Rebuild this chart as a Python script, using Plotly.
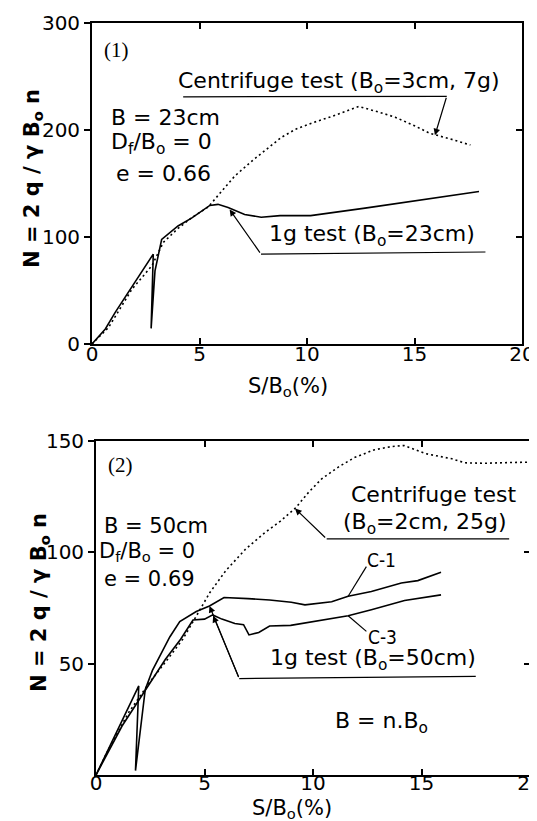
import plotly.graph_objects as go

# ---------------- Panel (1) data ----------------
p1_cent_x = [0, 0.77, 1.85, 2.78, 3.32, 4.0, 4.63, 5.4, 6.0, 6.64, 7.5, 8.1, 8.8, 9.5, 10.3, 11.2, 12.4, 13.3, 14.1, 15.0, 15.7, 16.6, 17.6]
p1_cent_y = [0, 15.5, 51, 73, 95, 108, 118, 128, 142, 157, 172, 182, 193, 201, 207, 213, 222, 217, 212, 204, 197, 192, 186]
p1_1g_x = [0, 0.62, 1.08, 2.85, 2.75, 2.93, 3.24, 4.0, 4.63, 5.48, 5.86, 6.33, 7.1, 7.87, 8.75, 10.17, 12.7, 18.0]
p1_1g_y = [0, 14, 29.5, 84, 14.6, 68.3, 97.8, 110.3, 117.6, 129.5, 130.5, 127.5, 121.1, 118.5, 120, 120, 127, 142.6]

# ---------------- Panel (2) data ----------------
p2_cent_x = [0, 0.6, 1.5, 2.5, 3.3, 4.0, 4.6, 5.25, 6.0, 6.9, 7.8, 8.5, 9.2, 9.8, 10.4, 11.2, 11.9, 12.8, 13.6, 14.2, 15.2, 16.4, 17.0, 17.9, 19.0, 20.0]
p2_cent_y = [0, 12, 28, 42, 52, 61, 71, 82, 92, 101.5, 109, 114, 120, 127, 133, 138.5, 142.5, 146, 147.5, 148, 144.3, 142, 140.2, 140, 140.3, 140.5]
p2_c1_x = [0, 0.6, 1.2, 1.97, 1.82, 2.27, 2.6, 3.0, 3.4, 3.86, 4.62, 5.23, 5.9, 7.0, 8.0, 9.0, 9.63, 10.86, 11.62, 12.69, 14.07, 14.83, 15.9]
p2_c1_y = [0, 12, 24, 40, 2, 38.4, 47, 54.7, 62, 68.9, 73.4, 75.9, 79.7, 79.2, 78.6, 77.6, 76.4, 77.8, 80.3, 82.4, 86.2, 87.3, 91.1]
p2_c3_x = [0, 0.6, 1.2, 1.8, 2.4, 3.2, 3.9, 4.47, 5.0, 5.38, 5.8, 6.4, 6.8, 7.05, 7.5, 8.0, 8.97, 9.63, 11.62, 12.69, 14.22, 15.9]
p2_c3_y = [0, 11, 22, 31, 40, 52, 61, 69.6, 70, 71.9, 70, 68, 67.5, 62.9, 64, 66.9, 67.2, 68.2, 71.5, 74.2, 78.4, 80.9]

# tick labels
p1_xticks = [0, 5, 10, 15, 20]
p1_yticks = [0, 100, 200, 300]
p2_xticks = [0, 5, 10, 15, 20]
p2_yticks = [50, 100, 150]

W, H = 537, 821
def px_x(a, b):
    return [a / W, b / W]
def px_y(top, bottom):
    return [1 - bottom / H, 1 - top / H]

TICKFONT = dict(family="DejaVu Sans", size=20, color="black")
TXT = dict(family="DejaVu Sans", size=22, color="black")
TXT2 = dict(family="DejaVu Sans", size=21, color="black")
LW = 1.6

fig = go.Figure()

# Panel 1 traces
fig.add_trace(go.Scatter(x=p1_cent_x, y=p1_cent_y, mode="lines",
                         line=dict(color="black", width=1.6, dash="2px,3px"),
                         xaxis="x", yaxis="y", showlegend=False, hoverinfo="skip"))
fig.add_trace(go.Scatter(x=p1_1g_x, y=p1_1g_y, mode="lines",
                         line=dict(color="black", width=LW),
                         xaxis="x", yaxis="y", showlegend=False, hoverinfo="skip"))
# Panel 2 traces
fig.add_trace(go.Scatter(x=p2_cent_x, y=p2_cent_y, mode="lines",
                         line=dict(color="black", width=1.6, dash="2px,3px"),
                         xaxis="x2", yaxis="y2", showlegend=False, hoverinfo="skip"))
fig.add_trace(go.Scatter(x=p2_c1_x, y=p2_c1_y, mode="lines",
                         line=dict(color="black", width=LW),
                         xaxis="x2", yaxis="y2", showlegend=False, hoverinfo="skip"))
fig.add_trace(go.Scatter(x=p2_c3_x, y=p2_c3_y, mode="lines",
                         line=dict(color="black", width=LW),
                         xaxis="x2", yaxis="y2", showlegend=False, hoverinfo="skip"))
# dummy traces so that the mirror (inside tick) axes are drawn
for xa, ya in (("x3", "y3"), ("x4", "y4")):
    fig.add_trace(go.Scatter(x=[None], y=[None], xaxis=xa, yaxis=ya,
                             showlegend=False, hoverinfo="skip"))

frame = dict(showline=True, linecolor="black", linewidth=1.8, mirror=True,
             showgrid=False, zeroline=False, tickfont=TICKFONT, automargin=False,
             tickcolor="black", tickwidth=1.5, ticklen=6)
mirror_ax = dict(ticks="inside", ticklen=6, tickwidth=1.5, tickcolor="black",
                 showticklabels=False, showgrid=False, zeroline=False,
                 showline=False, automargin=False)

fig.update_layout(
    template="none",
    width=W, height=H, autosize=False,
    margin=dict(l=0, r=0, t=0, b=0, pad=0),
    paper_bgcolor="white", plot_bgcolor="white",
    xaxis=dict(frame, domain=px_x(84, 514), anchor="y", range=[0, 20],
               tickvals=p1_xticks, ticks="inside", ticklabelstandoff=-9),
    yaxis=dict(frame, domain=px_y(15, 336), anchor="x", range=[0, 300],
               tickvals=p1_yticks, ticks="outside"),
    xaxis2=dict(frame, domain=px_x(88, 522), anchor="y2", range=[0, 20],
                tickvals=p2_xticks, ticks="inside", ticklabelstandoff=-11),
    yaxis2=dict(frame, domain=px_y(433, 767), anchor="x2", range=[0, 150],
                tickvals=p2_yticks, ticks="outside"),
    xaxis3=dict(mirror_ax, overlaying="x", anchor="y3", side="top", range=[0, 20],
                tickvals=p1_xticks[1:-1]),
    yaxis3=dict(mirror_ax, overlaying="y", anchor="x3", side="right", range=[0, 300],
                tickvals=p1_yticks[1:-1]),
    xaxis4=dict(mirror_ax, overlaying="x2", anchor="y4", side="top", range=[0, 20],
                tickvals=p2_xticks[1:-1]),
    yaxis4=dict(mirror_ax, overlaying="y2", anchor="x4", side="right", range=[0, 150],
                tickvals=p2_yticks[:-1]),
)

ann = []
def txt(x, y, text, xref, yref, xanchor="left", font=TXT):
    ann.append(dict(x=x, y=y, xref=xref, yref=yref, text=text, showarrow=False,
                    xanchor=xanchor, yanchor="middle", font=font, borderpad=0))

def arrow(x_tip, y_tip, x_from, y_from, xref, yref, head=2):
    ann.append(dict(x=x_tip, y=y_tip, ax=x_from, ay=y_from, xref=xref, yref=yref,
                    axref=xref, ayref=yref, text="", showarrow=True,
                    arrowhead=head, arrowsize=1.1, arrowwidth=1.2,
                    arrowcolor="black", standoff=0, startstandoff=0))

shapes = []
def seg(x0, y0, x1, y1, xref, yref):
    shapes.append(dict(type="line", x0=x0, y0=y0, x1=x1, y1=y1, xref=xref, yref=yref,
                       line=dict(color="black", width=1.2)))

SERIF = dict(family="Liberation Serif", size=21, color="black")
NARROW = dict(family="Liberation Sans Narrow, DejaVu Sans Condensed, DejaVu Sans Mono", size=19, color="black")

# Panel 1 annotations
txt(0.51, 275, "(1)", "x", "y", font=SERIF)
txt(3.95, 244, "Centrifuge test (B<sub>o</sub>=3cm, 7g)", "x", "y")
seg(4.24, 231, 16.5, 231.5, "x", "y")
arrow(15.95, 195, 16.5, 231.5, "x", "y")
txt(0.85, 212, "B = 23cm", "x", "y")
txt(0.85, 187, "D<sub>f</sub>/B<sub>o</sub> = 0", "x", "y")
txt(1.05, 159, "e = 0.66", "x", "y")
txt(8.2, 101, "1g test (B<sub>o</sub>=23cm)", "x", "y")
seg(7.86, 84, 18.3, 86, "x", "y")
arrow(6.4, 125.8, 7.86, 84, "x", "y")

# Panel 2 annotations
txt(0.5, 139, "(2)", "x2", "y2", font=SERIF)
txt(19.4, 126, "Centrifuge test", "x2", "y2", xanchor="right")
txt(19.0, 113, "(B<sub>o</sub>=2cm, 25g)", "x2", "y2", xanchor="right")
seg(10.63, 106, 19.04, 106, "x2", "y2")
arrow(9.17, 119.7, 10.63, 106, "x2", "y2")
txt(0.3, 112, "B = 50cm", "x2", "y2", font=TXT2)
txt(0.1, 100, "D<sub>f</sub>/B<sub>o</sub> = 0", "x2", "y2", font=TXT2)
txt(0.3, 88, "e = 0.69", "x2", "y2", font=TXT2)
txt(12.46, 96.5, "C-1", "x2", "y2", font=NARROW)
seg(12.46, 93.6, 11.62, 80.3, "x2", "y2")
txt(12.5, 62, "C-3", "x2", "y2", font=NARROW)
seg(12.46, 64.5, 11.62, 71.5, "x2", "y2")
txt(7.95, 51.8, "1g test (B<sub>o</sub>=50cm)", "x2", "y2")
seg(6.6, 43.3, 17.5, 44.3, "x2", "y2")
arrow(5.23, 75.9, 6.6, 43.3, "x2", "y2")
arrow(5.4, 71.5, 6.6, 43.3, "x2", "y2")
txt(10.95, 23.7, "B = n.B<sub>o</sub>", "x2", "y2")

# axis titles
TITLE = dict(family="DejaVu Sans", size=21, color="black")
YTITLE = dict(family="DejaVu Sans", size=21, color="black")
ann.append(dict(x=279.5 / W, y=1 - 379 / H, xref="paper", yref="paper",
                text="S/B<sub>o</sub>(%)", showarrow=False, font=TITLE,
                xanchor="center", yanchor="middle"))
ann.append(dict(x=284 / W, y=1 - 801 / H, xref="paper", yref="paper",
                text="S/B<sub>o</sub>(%)", showarrow=False, font=TITLE,
                xanchor="center", yanchor="middle"))
ann.append(dict(x=25 / W, y=1 - 171 / H, xref="paper", yref="paper",
                text="<b>N = 2 q / γ B<sub>o</sub> n</b>", showarrow=False, font=YTITLE,
                textangle=-90, xanchor="center", yanchor="middle"))
ann.append(dict(x=32 / W, y=1 - 595 / H, xref="paper", yref="paper",
                text="<b>N = 2 q / γ B<sub>o</sub> n</b>", showarrow=False, font=YTITLE,
                textangle=-90, xanchor="center", yanchor="middle"))

fig.update_layout(annotations=ann, shapes=shapes)
fig.write_html("out.html")
